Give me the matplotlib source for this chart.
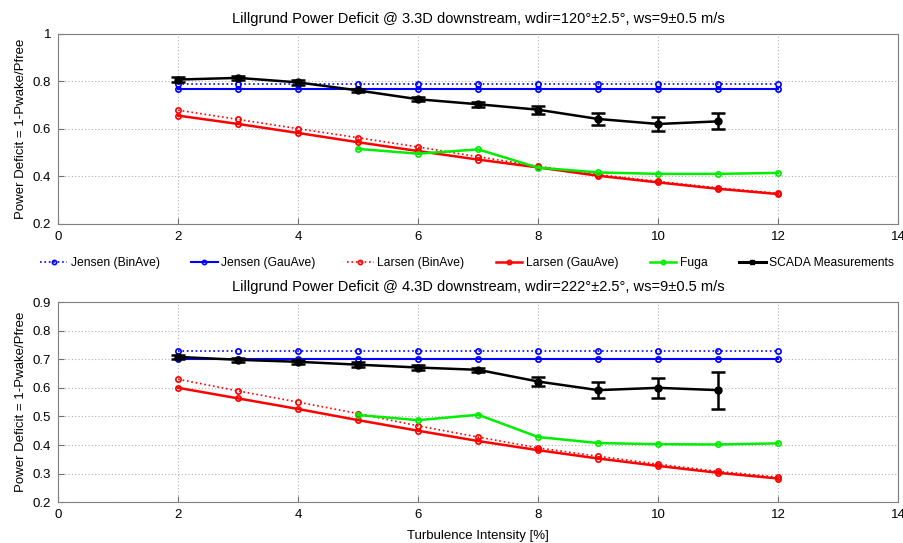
import matplotlib
matplotlib.use("Agg")
import matplotlib.pyplot as plt
from matplotlib.lines import Line2D
import numpy as np

plt.rcParams['font.family'] = ['Liberation Sans', 'DejaVu Sans']

ti = [2, 3, 4, 5, 6, 7, 8, 9, 10, 11, 12]
ti_fuga = [5, 6, 7, 8, 9, 10, 11, 12]
ti_scada = [2, 3, 4, 5, 6, 7, 8, 9, 10, 11]

# Top panel: 3.3D downstream
jensen_bin_top = [0.79] * 11
jensen_gau_top = [0.77] * 11
larsen_bin_top = [0.679, 0.640, 0.601, 0.563, 0.524, 0.483, 0.443, 0.408, 0.379, 0.352, 0.329]
larsen_gau_top = [0.656, 0.621, 0.583, 0.544, 0.507, 0.471, 0.438, 0.403, 0.375, 0.348, 0.326]
fuga_top = [0.516, 0.496, 0.514, 0.437, 0.417, 0.411, 0.411, 0.415]
scada_top = [0.808, 0.815, 0.796, 0.762, 0.725, 0.704, 0.681, 0.642, 0.621, 0.632]
scada_err_top = [0.012, 0.010, 0.009, 0.008, 0.009, 0.011, 0.017, 0.024, 0.030, 0.034]

# Bottom panel: 4.3D downstream
jensen_bin_bot = [0.728] * 11
jensen_gau_bot = [0.70] * 11
larsen_bin_bot = [0.630, 0.589, 0.550, 0.510, 0.467, 0.428, 0.390, 0.361, 0.333, 0.308, 0.288]
larsen_gau_bot = [0.600, 0.563, 0.526, 0.487, 0.450, 0.414, 0.382, 0.353, 0.327, 0.303, 0.283]
fuga_bot = [0.505, 0.487, 0.506, 0.428, 0.407, 0.403, 0.402, 0.406]
scada_bot = [0.708, 0.698, 0.691, 0.681, 0.671, 0.663, 0.622, 0.592, 0.600, 0.592]
scada_err_bot = [0.008, 0.008, 0.008, 0.008, 0.008, 0.008, 0.015, 0.027, 0.034, 0.065]

titles = ["Lillgrund Power Deficit @ 3.3D downstream, wdir=120\u00b0\u00b12.5\u00b0, ws=9\u00b10.5 m/s",
          "Lillgrund Power Deficit @ 4.3D downstream, wdir=222\u00b0\u00b12.5\u00b0, ws=9\u00b10.5 m/s"]
labels = ["Jensen (BinAve)", "Jensen (GauAve)", "Larsen (BinAve)", "Larsen (GauAve)", "Fuga", "SCADA Measurements"]

fig = plt.figure(figsize=(9.04, 5.43), dpi=100)
ax1 = fig.add_axes([0.0645, 0.5875, 0.929, 0.350])
ax2 = fig.add_axes([0.0645, 0.0750, 0.929, 0.3688])

blue = '#0000ff'
red = '#ff0000'
green = '#00ee00'

def draw(ax, jb, jg, lb, lg, fu, sc, se, title, ylim, yticks):
    h = []
    h += ax.plot(ti, jb, ':', color=blue, lw=1.2, marker='o', ms=3.8, mfc='none', mew=1.2)
    h += ax.plot(ti, jg, '-', color=blue, lw=1.5, marker='o', ms=3.8, mfc='none', mew=1.2)
    h += ax.plot(ti, lb, ':', color=red, lw=1.2, marker='o', ms=3.8, mfc='none', mew=1.2)
    h += ax.plot(ti, lg, '-', color=red, lw=1.8, marker='o', ms=3.8, mfc='none', mew=1.2)
    h += ax.plot(ti_fuga, fu, '-', color=green, lw=1.8, marker='o', ms=3.8, mfc='none', mew=1.2)
    ax.errorbar(ti_scada, sc, yerr=se, color='black', lw=1.8, marker='o', ms=5,
                capsize=5, capthick=1.8, elinewidth=1.8)
    h.append(Line2D([], [], color='black', lw=2.2, marker='s', ms=3))
    ax.set_xlim(0, 14)
    ax.set_ylim(*ylim)
    ax.set_xticks(np.arange(0, 15, 2))
    ax.set_yticks(yticks)
    ax.set_yticklabels([('%g' % v) for v in yticks])
    ax.grid(True, linestyle=(0, (1, 2)), color='#b0b0b0', lw=0.8)
    ax.tick_params(direction='in', labelsize=9.5, length=4, color='#707070', pad=5)
    for s in ax.spines.values():
        s.set_color('#7f7f7f')
    ax.set_title(title, fontsize=10.5, pad=8)
    ax.set_ylabel("Power Deficit = 1-Pwake/Pfree", fontsize=9.5, labelpad=4)
    return h

h = draw(ax1, jensen_bin_top, jensen_gau_top, larsen_bin_top, larsen_gau_top, fuga_top,
         scada_top, scada_err_top, titles[0], (0.2, 1.0), [0.2, 0.4, 0.6, 0.8, 1.0])
draw(ax2, jensen_bin_bot, jensen_gau_bot, larsen_bin_bot, larsen_gau_bot, fuga_bot,
     scada_bot, scada_err_bot, titles[1], (0.2, 0.9), [0.2, 0.3, 0.4, 0.5, 0.6, 0.7, 0.8, 0.9])
ax2.set_xlabel("Turbulence Intensity [%]", fontsize=9.5, labelpad=6)

fig.legend(h, labels, loc='center', bbox_to_anchor=(0.517, 0.515), ncol=6, frameon=False,
           fontsize=8.7, handlelength=2.2, handletextpad=0.3, columnspacing=2.6, markerscale=0.8)

fig.savefig("out.png", dpi=100)
